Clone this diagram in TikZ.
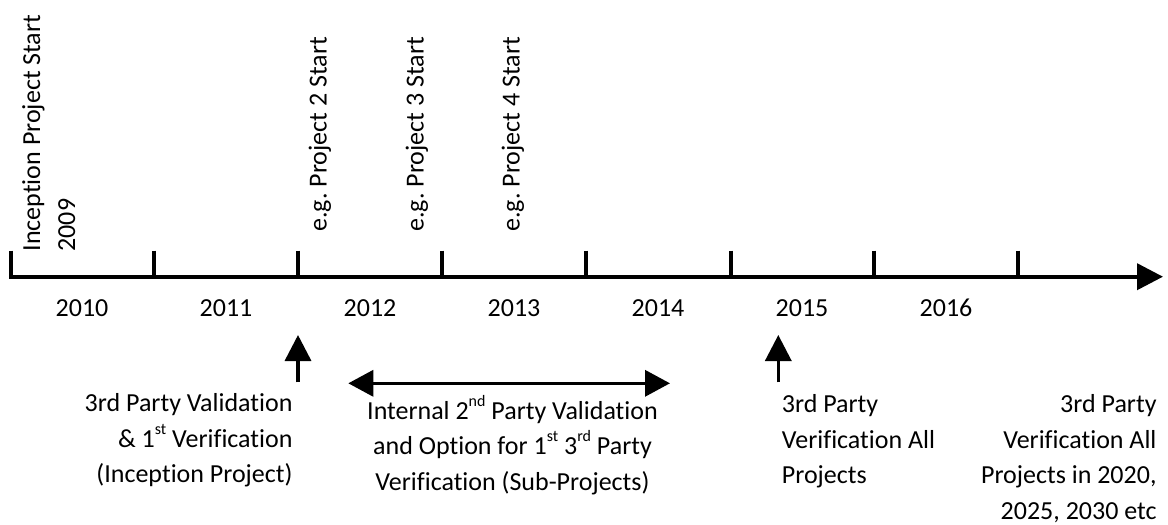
\documentclass[tikz,border=0pt]{standalone}
\usepackage{fontspec}
\setmainfont{Carlito}[Ligatures={NoCommon,NoContextual}]
\usetikzlibrary{arrows.meta}
\newcommand{\supword}[1]{\raisebox{13pt}{\fontsize{16}{16}\selectfont #1}}
\frenchspacing
\begin{document}
\begin{tikzpicture}[x=1pt,y=-1pt,
  axisline/.style={line width=4pt,-{Triangle[length=26pt,width=26pt]}},
  tickline/.style={line width=4pt},
  pointer/.style={line width=3.5pt,-{Triangle[length=26pt,width=26pt]}},
  spanarrow/.style={line width=3.5pt,{Triangle[length=25pt,width=26pt]}-{Triangle[length=25pt,width=26pt]}},
  lbl/.style={inner sep=0pt,font=\fontsize{26}{35.5}\selectfont},
  vlbl/.style={lbl,rotate=90,anchor=base west},
  year/.style={lbl,anchor=base},
]
\useasboundingbox (0,0) rectangle (1168,525);

% time axis with its first tick as one path
\coordinate (a0) at (11,250.5);
\coordinate (o) at (11,276.7);
\coordinate (aend) at (1163,276.7);
\draw[axisline] (a0) -- (o) -- (aend);

% year ticks
\foreach \x [count=\i] in {153.5,297.7,442,586,730.5,874,1017.5} {
  \coordinate (tt\i) at (\x,250.5);
  \coordinate (tb\i) at (\x,278);
  \draw[tickline] (tt\i) -- (tb\i);
}

% project start labels
\node[vlbl] (incep) at (40,251.7) {Inception Project Start};
\node[vlbl] (y2009) at (75,251.7) {2009};
\node[vlbl] (p2) at (326.5,232) {e.g. Project 2 Start};
\node[vlbl] (p3) at (423.5,232) {e.g. Project 3 Start};
\node[vlbl] (p4) at (519.5,232) {e.g. Project 4 Start};

% year labels
\foreach \yr [count=\i from 0] in {2010,...,2016}
  \node[year] (yr\yr) at (82+144*\i,316) {\yr};

% verification markers
\coordinate (m1s) at (298,382.3);
\coordinate (m1e) at (298,335);
\draw[pointer] (m1s) -- (m1e);
\coordinate (m2s) at (778.3,382.3);
\coordinate (m2e) at (778.3,335);
\draw[pointer] (m2s) -- (m2e);
\coordinate (sl) at (348.3,383.3);
\coordinate (sr) at (670,383.3);
\draw[spanarrow] (sl) -- (sr);

% descriptions (anchored on the baseline of their last line)
\node[lbl,align=right,anchor=base east] (val1) at (292.7,482.7)
  {3rd Party Validation\\ \& 1\supword{st} Verification\\ (Inception Project)};
\node[lbl,align=center,anchor=base] (int2) at (512.5,490.3)
  {Internal 2\supword{nd} Party Validation\\ and Option for 1\supword{st} 3\supword{rd} Party\\ Verification (Sub-Projects)};
\node[lbl,align=left,anchor=base west] (ver15) at (781.7,483.7)
  {3rd Party\\ Verification All\\ Projects};
\node[lbl,align=right,anchor=base east] (ver20) at (1156.7,519.2)
  {3rd Party\\ Verification All\\ Projects in 2020,\\ 2025, 2030 etc};
\end{tikzpicture}
\end{document}
